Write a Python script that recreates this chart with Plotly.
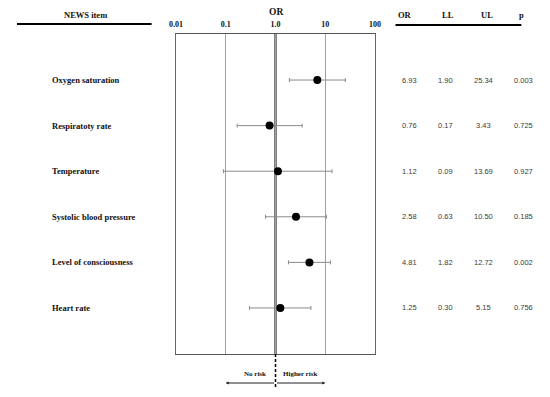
import plotly.graph_objects as go
import numpy as np

items = ["Oxygen saturation", "Respiratoty rate", "Temperature",
         "Systolic blood pressure", "Level of consciousness", "Heart rate"]
or_vals = [6.93, 0.76, 1.12, 2.58, 4.81, 1.25]
ll_vals = [1.90, 0.17, 0.09, 0.63, 1.82, 0.30]
ul_vals = [25.34, 3.43, 13.69, 10.50, 12.72, 5.15]
p_vals = ["0.003", "0.725", "0.927", "0.185", "0.002", "0.756"]
tick_vals = [0.01, 0.1, 1, 10, 100]
tick_text = ["0.01", "0.1", "1.0", "10", "100"]

# page body has an 8px margin; figure fills the rest of the 550x397 window
OFF = 8
W, H = 550 - 2 * OFF, 397 - 2 * OFF
SERIF = "Liberation Serif"
SANS = "Liberation Sans"

def px(x):
    return (x - OFF) / W

def py(y):
    return 1 - (y - OFF) / H

rows = list(range(len(items)))
fig = go.Figure()
fig.add_trace(go.Scatter(
    x=or_vals, y=rows, mode="markers",
    marker=dict(color="black", size=8),
    error_x=dict(type="data", symmetric=False,
                 array=[u - o for u, o in zip(ul_vals, or_vals)],
                 arrayminus=[o - l for o, l in zip(or_vals, ll_vals)],
                 color="#8a8a8a", thickness=1, width=2),
    showlegend=False, hoverinfo="skip"))

ann = []
# row labels
for i, name in enumerate(items):
    ann.append(dict(x=px(44), y=i, xref="paper", yref="y", text=f"<b>{name}</b>",
                    xanchor="left", yanchor="middle", showarrow=False,
                    font=dict(family=SERIF, size=8.5, color="#111")))
# table values
cols = [(412, [f"{v:.2f}" for v in or_vals]),
        (449, [f"{v:.2f}" for v in ll_vals]),
        (488, [f"{v:.2f}" for v in ul_vals]),
        (529, p_vals)]
for cx, vals in cols:
    for i, t in enumerate(vals):
        ann.append(dict(x=px(cx), y=i, xref="paper", yref="y", text=t,
                        xanchor="center", yanchor="middle", showarrow=False,
                        font=dict(family=SANS, size=7.5, color="#3a3a3a")))
# headers
for cx, t in [(408, "OR"), (452, "LL"), (492, "UL"), (527, "p")]:
    ann.append(dict(x=px(cx), y=py(15), xref="paper", yref="paper", text=f"<b>{t}</b>",
                    xanchor="center", yanchor="middle", showarrow=False,
                    font=dict(family=SERIF, size=8.5, color="#111")))
ann.append(dict(x=px(80), y=py(15), xref="paper", yref="paper", text="<b>NEWS item</b>",
                xanchor="center", yanchor="middle", showarrow=False,
                font=dict(family=SERIF, size=8.5, color="#111")))
ann.append(dict(x=px(275), y=py(12), xref="paper", yref="paper", text="<b>OR</b>",
                xanchor="center", yanchor="middle", showarrow=False,
                font=dict(family=SERIF, size=9.5, color="#111")))
# bottom risk labels
ann.append(dict(x=px(254), y=py(374), xref="paper", yref="paper", text="<b>No risk</b>",
                xanchor="center", yanchor="middle", showarrow=False,
                font=dict(family=SERIF, size=7, color="#111")))
ann.append(dict(x=px(300), y=py(374), xref="paper", yref="paper", text="<b>Higher risk</b>",
                xanchor="center", yanchor="middle", showarrow=False,
                font=dict(family=SERIF, size=7, color="#111")))
# arrows (log coordinates for annotations)
for tip in [0.1, 10]:
    ann.append(dict(x=np.log10(tip), y=py(383), xref="x", yref="paper",
                    ax=0, ay=0, axref="x", ayref="pixel",
                    text="", showarrow=True, arrowhead=2, arrowsize=0.6,
                    arrowwidth=1, arrowcolor="#222", standoff=0, startstandoff=0))

shapes = [
    dict(type="line", xref="paper", yref="paper", x0=px(10), x1=px(148),
         y0=py(24), y1=py(24), line=dict(color="black", width=2)),
    dict(type="line", xref="paper", yref="paper", x0=px(398), x1=px(527),
         y0=py(25), y1=py(25), line=dict(color="black", width=2)),
    dict(type="line", xref="x", yref="paper", x0=1, x1=1,
         y0=py(354), y1=py(34), line=dict(color="black", width=2), layer="below"),
    dict(type="line", xref="x", yref="paper", x0=1, x1=1,
         y0=py(354), y1=py(390), line=dict(color="black", width=1.5, dash="3px,2px")),
]

fig.update_layout(
    width=W, height=H, margin=dict(l=0, r=0, t=0, b=0),
    paper_bgcolor="white", plot_bgcolor="white",
    annotations=ann, shapes=shapes,
    xaxis=dict(type="log", range=[-2, 2], domain=[px(173), px(377)],
               side="top", tickvals=tick_vals,
               ticktext=[f"<b>{t}</b>" for t in tick_text],
               showgrid=True, gridcolor="#a0a0a0", gridwidth=1.2,
               showline=True, mirror=True, linecolor="#555", linewidth=1.2,
               ticks="", ticklabelstandoff=3,
               tickfont=dict(family=SERIF, size=8, color="#111"),
               zeroline=False, fixedrange=True),
    yaxis=dict(range=[6.01, -1.01], domain=[py(354), py(34)],
               showgrid=False, showticklabels=False, ticks="",
               showline=True, mirror=True, linecolor="#666", linewidth=1.2,
               zeroline=False, fixedrange=True),
)
fig.write_html("out.html")
